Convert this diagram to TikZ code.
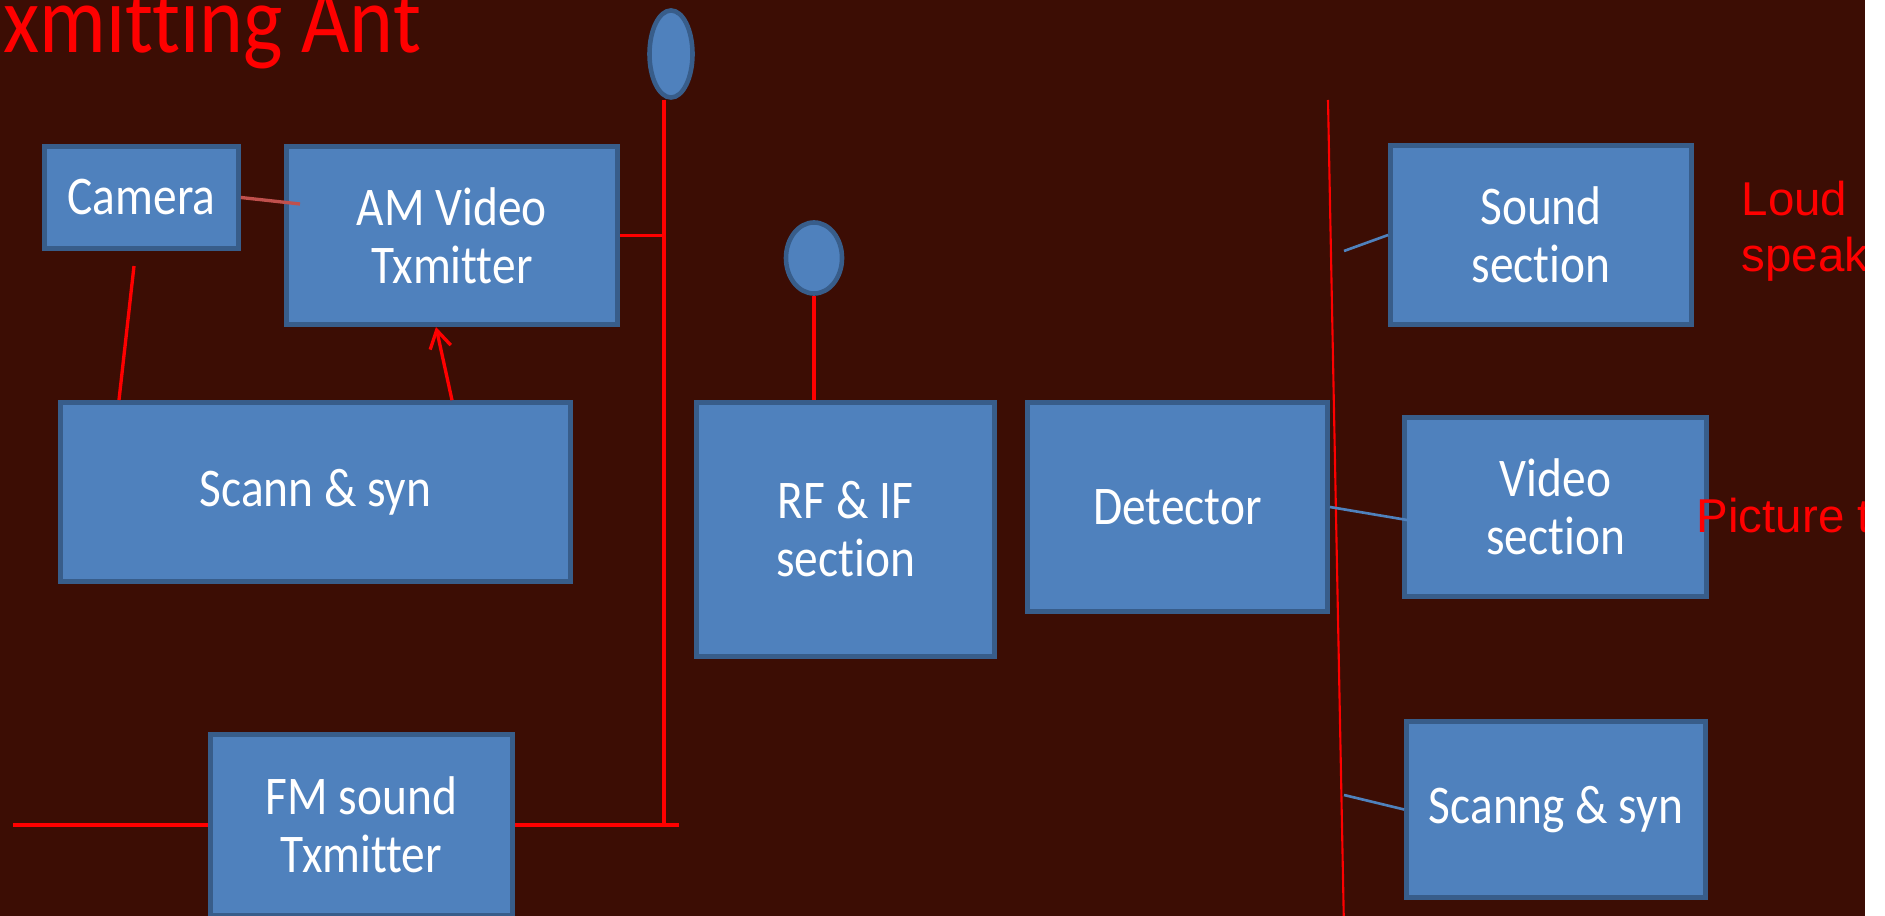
\documentclass[tikz,border=0pt]{standalone}
\usepackage{fontspec}
\setmainfont{Carlito}
\newfontfamily\boxfont{Carlito}[FakeStretch=0.87,Ligatures=NoCommon]
\newfontfamily\labelfont{Liberation Sans}
\usetikzlibrary{arrows.meta,shapes.geometric}
\definecolor{slidebg}{HTML}{3C0D04}
\definecolor{blockfill}{HTML}{4F81BD}
\definecolor{blockline}{HTML}{385D8A}
\definecolor{camred}{HTML}{C0504D}

\begin{document}
\begin{tikzpicture}[
  x=0.01cm, y=-0.01cm,
  block/.style={rectangle,draw=blockline,fill=blockfill,line width=1.3pt,
    inner sep=2pt,align=center,text=white,
    font=\boxfont\fontsize{15.5}{16.5}\selectfont},
  dish/.style={ellipse,draw=blockline,fill=blockfill,line width=1.3pt,inner sep=0pt},
  feed/.style={draw=red,line width=0.95pt},
  tap/.style={draw=blockfill,line width=0.75pt},
  tag/.style={anchor=base west,inner sep=0pt,text=red}]
\useasboundingbox (0,0) rectangle (1885,916);
\clip (0,0) rectangle (1885,916);
\fill[white] (0,0) rectangle (1885,916);
\fill[slidebg] (0,0) rectangle (1865,916);

% transmitter side
\node[block,minimum width=1.94cm,minimum height=1.02cm] (cam) at (141.5,197.5) {Camera};
\node[block,minimum width=3.31cm,minimum height=1.78cm] (am) at (452,235.5) {AM Video\\Txmitter};
\node[block,minimum width=5.10cm,minimum height=1.79cm] (scan) at (315.5,492) {Scann \& syn};
\node[block,minimum width=3.02cm,minimum height=1.81cm] (fm) at (361.5,825) {FM sound\\Txmitter};
\node[dish,minimum width=0.43cm,minimum height=0.87cm] (ant1) at (671,54) {};
\coordinate (mastTop) at (664,100);
\coordinate (mastBot) at (664,825);
\coordinate (feedL) at (13,825);
\coordinate (feedR) at (679,825);
\coordinate (camtap) at (134,266);
\coordinate (scantap) at (119,400);
\coordinate (amtap) at (300,204);
\coordinate (amhead) at (436,327);

\draw[feed] (mastTop) -- (mastBot);
\draw[feed] (am.east) -- (am.east -| mastTop);
\draw[feed] (feedL) -- (fm.west);
\draw[feed] (fm.east) -- (feedR);
\draw[feed] (camtap) -- (scantap);
\draw[camred,line width=0.95pt] (cam.east) -- (amtap);
\draw[feed,-{Straight Barb[length=5pt,width=6pt]}] (scan.north -| am.center) -- (amhead);

% receiver side
\node[block,minimum width=2.98cm,minimum height=2.54cm] (rfif) at (845.5,529.5) {RF \& IF\\section};
\node[dish,minimum width=0.56cm,minimum height=0.71cm] (ant2) at (814,258) {};
\node[block,minimum width=3.00cm,minimum height=2.09cm] (det) at (1177.5,507) {Detector};
\node[block,minimum width=3.01cm,minimum height=1.79cm] (snd) at (1541,235) {Sound\\section};
\node[block,minimum width=3.02cm,minimum height=1.79cm] (vid) at (1555.5,507) {Video\\section};
\node[block,minimum width=2.99cm,minimum height=1.76cm] (rscan) at (1556,809.5) {Scanng \& syn};
\coordinate (busTop) at (1328,100);
\coordinate (busBot) at (1344,930);
\coordinate (sndtap) at (1344,251);
\coordinate (vidtap) at (1419,522);
\coordinate (rscantap) at (1344,795);

\draw[feed] (ant2.south) -- (ant2.south |- rfif.north);
\draw[red,line width=0.6pt] (busTop) -- (busBot);
\draw[tap] (sndtap) -- (snd.west);
\draw[tap] (det.east) -- (vidtap);
\draw[tap] (rscantap) -- (rscan.west);

% red labels
\node[tag,font=\boxfont\fontsize{27.3}{32}\selectfont] (title) at (3,53) {xmitting Ant};
\node[tag,font=\labelfont\fontsize{13.5}{16}\selectfont] (loud) at (1741,216) {Loud};
\node[tag,font=\labelfont\fontsize{13.5}{16}\selectfont] (speak) at (1741,272) {speak};
\node[tag,font=\labelfont\fontsize{13.5}{16}\selectfont] (pic) at (1696,533) {Picture t};
\fill[white] (1865,0) rectangle (1885,916);
\end{tikzpicture}
\end{document}
